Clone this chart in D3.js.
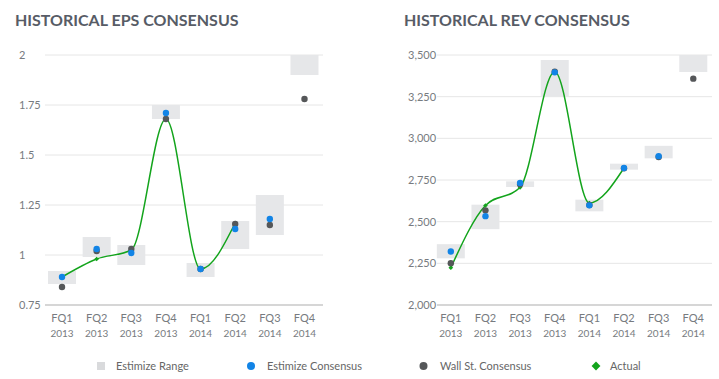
<!DOCTYPE html>
<html>
<head>
<meta charset="utf-8">
<script src="https://cdn.jsdelivr.net/npm/d3@7"></script>
<style>
  body { margin: 0; background: #fff; }
  svg { font-family: Lato, "Open Sans", sans-serif; }
</style>
</head>
<body>
<div id="chart"></div>
<script>
const width = 719,
  height = 379;

// categories
const quarters = ["FQ1", "FQ2", "FQ3", "FQ4", "FQ1", "FQ2", "FQ3", "FQ4"];
const years = ["2013", "2013", "2013", "2013", "2014", "2014", "2014", "2014"];

// EPS
const epsTicks = [0.75, 1, 1.25, 1.5, 1.75, 2];
const epsTickLabels = ["0.75", "1", "1.25", "1.5", "1.75", "2"];
const epsRangeLow = [0.855, 0.99, 0.95, 1.68, 0.89, 1.03, 1.1, 1.9];
const epsRangeHigh = [0.92, 1.09, 1.05, 1.75, 0.96, 1.17, 1.3, 2.0];
const epsEstimize = [0.89, 1.03, 1.01, 1.71, 0.93, 1.13, 1.18, null];
const epsWallSt = [0.84, 1.02, 1.03, 1.68, 0.93, 1.155, 1.15, 1.78];
const epsActual = [0.89, 0.98, 1.025, 1.68, 0.93, 1.16, null, null];

// Revenue
const revTicks = [2000, 2250, 2500, 2750, 3000, 3250, 3500];
const revTickLabels = ["2,000", "2,250", "2,500", "2,750", "3,000", "3,250", "3,500"];
const revRangeLow = [2280, 2455, 2708, 3250, 2562, 2812, 2880, 3398];
const revRangeHigh = [2365, 2602, 2742, 3470, 2632, 2848, 2955, 3500];
const revEstimize = [2321, 2533, 2732, 3396, 2598, 2822, 2893, null];
const revWallSt = [2251, 2568, 2725, 3400, 2600, 2820, 2888, 3358];
const revActual = [2224, 2597, 2706, 3400, 2612, 2822, null, null];

const colors = {
  range: "#e6e7e9",
  estimize: "#1284e6",
  wallSt: "#555759",
  actual: "#13a41c",
  grid: "#e6e6e6",
  text: "#777b80",
  title: "#575c66",
};

const svg = d3
  .select("#chart")
  .append("svg")
  .attr("width", width)
  .attr("height", height);

function drawChart(opts) {
  const g = svg.append("g");
  const idx = d3.range(quarters.length);
  const x = d3.scaleBand().domain(idx).range(opts.xRange).padding(0);
  const y = d3.scaleLinear().domain(opts.yDomain).range([305, 55]);
  const cx = (i) => x(i) + x.bandwidth() / 2;
  const boxW = 28;

  g.append("text")
    .attr("x", opts.titleX)
    .attr("y", 26)
    .attr("fill", colors.title)
    .attr("font-size", 16)
    .attr("font-weight", 700)
    .text(opts.title);

  // gridlines
  g.selectAll(".grid")
    .data(opts.ticks)
    .enter()
    .append("line")
    .attr("x1", opts.gridX[0])
    .attr("x2", opts.gridX[1])
    .attr("y1", (d) => y(d))
    .attr("y2", (d) => y(d))
    .attr("stroke", (d, i) => (i === 0 ? "#d6d6d6" : colors.grid))
    .attr("stroke-width", (d, i) => (i === 0 ? 2 : 1));

  g.selectAll(".ylab")
    .data(opts.ticks)
    .enter()
    .append("text")
    .attr("x", opts.labelX)
    .attr("y", (d) => y(d) + 4)
    .attr("font-size", 11)
    .attr("fill", colors.text)
    .text((d, i) => opts.tickLabels[i]);

  // x labels
  const xl = g.selectAll(".xlab").data(idx).enter().append("g");
  xl.append("text")
    .attr("x", cx)
    .attr("y", 322)
    .attr("text-anchor", "middle")
    .attr("font-size", 11)
    .attr("fill", colors.text)
    .text((i) => quarters[i]);
  xl.append("text")
    .attr("x", cx)
    .attr("y", 337)
    .attr("text-anchor", "middle")
    .attr("font-size", 10)
    .attr("fill", colors.text)
    .text((i) => years[i]);

  // estimize range boxes
  g.selectAll(".range")
    .data(idx)
    .enter()
    .append("rect")
    .attr("x", (i) => cx(i) - boxW / 2)
    .attr("width", boxW)
    .attr("y", (i) => y(opts.high[i]))
    .attr("height", (i) => y(opts.low[i]) - y(opts.high[i]))
    .attr("fill", colors.range);

  // actual line
  const actualPts = idx.filter((i) => opts.actual[i] != null);
  const line = d3
    .line()
    .x((i) => cx(i))
    .y((i) => y(opts.actual[i]))
    .curve(d3.curveMonotoneX);
  g.append("path")
    .attr("d", line(actualPts))
    .attr("fill", "none")
    .attr("stroke", colors.actual)
    .attr("stroke-width", 1.5);

  g.selectAll(".act")
    .data(actualPts)
    .enter()
    .append("path")
    .attr("d", d3.symbol(d3.symbolDiamond2, 14)())
    .attr("transform", (i) => `translate(${cx(i)},${y(opts.actual[i])})`)
    .attr("fill", colors.actual);

  g.selectAll(".ws")
    .data(idx.filter((i) => opts.wallSt[i] != null))
    .enter()
    .append("circle")
    .attr("cx", cx)
    .attr("cy", (i) => y(opts.wallSt[i]))
    .attr("r", 3.2)
    .attr("fill", colors.wallSt);

  g.selectAll(".est")
    .data(idx.filter((i) => opts.estimize[i] != null))
    .enter()
    .append("circle")
    .attr("cx", cx)
    .attr("cy", (i) => y(opts.estimize[i]))
    .attr("r", 3.2)
    .attr("fill", colors.estimize);
}

drawChart({
  title: "HISTORICAL EPS CONSENSUS",
  titleX: 15,
  xRange: [44.7, 321.8],
  gridX: [45, 323],
  labelX: 19,
  yDomain: [0.75, 2],
  ticks: epsTicks,
  tickLabels: epsTickLabels,
  low: epsRangeLow,
  high: epsRangeHigh,
  estimize: epsEstimize,
  wallSt: epsWallSt,
  actual: epsActual,
});

drawChart({
  title: "HISTORICAL REV CONSENSUS",
  titleX: 404,
  xRange: [433.5, 710.6],
  gridX: [437, 712],
  labelX: 408,
  yDomain: [2000, 3500],
  ticks: revTicks,
  tickLabels: revTickLabels,
  low: revRangeLow,
  high: revRangeHigh,
  estimize: revEstimize,
  wallSt: revWallSt,
  actual: revActual,
});

// legend
const legend = svg.append("g").attr("font-size", 11).attr("fill", "#666");
legend.append("rect").attr("x", 97).attr("y", 362).attr("width", 8).attr("height", 8).attr("fill", "#d9dadc");
legend.append("text").attr("x", 116).attr("y", 370).text("Estimize Range");
legend.append("circle").attr("cx", 251).attr("cy", 366).attr("r", 4).attr("fill", colors.estimize);
legend.append("text").attr("x", 267).attr("y", 370).text("Estimize Consensus");
legend.append("circle").attr("cx", 423.5).attr("cy", 366).attr("r", 4).attr("fill", colors.wallSt);
legend.append("text").attr("x", 440).attr("y", 370).text("Wall St. Consensus");
legend.append("path")
  .attr("d", d3.symbol(d3.symbolDiamond2, 50)())
  .attr("transform", "translate(596,366)")
  .attr("fill", colors.actual);
legend.append("text").attr("x", 610).attr("y", 370).text("Actual");
</script>
</body>
</html>
